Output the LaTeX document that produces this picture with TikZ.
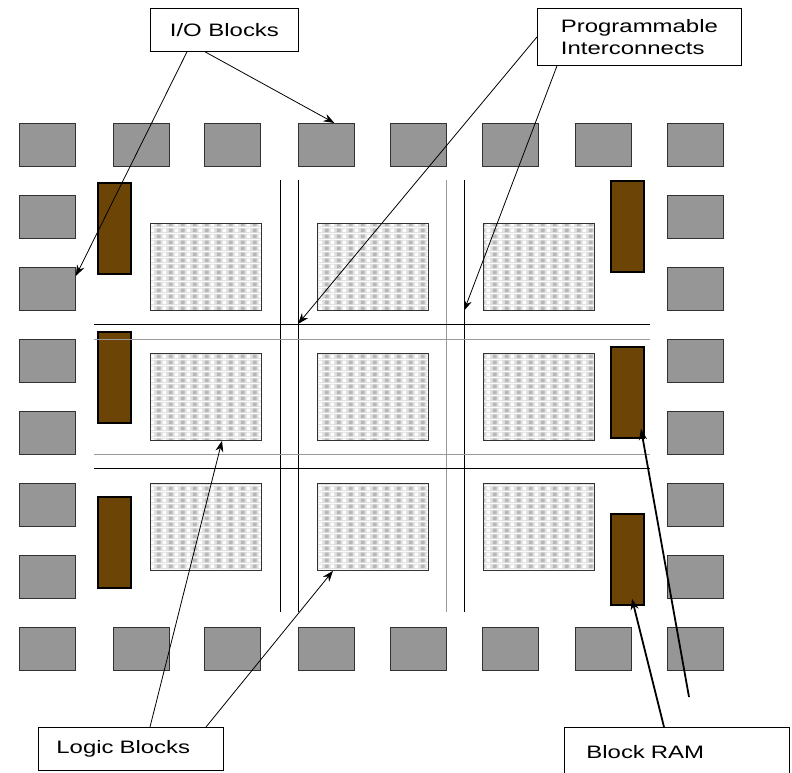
\documentclass[tikz,border=0pt]{standalone}
\usepackage{fontspec}
\setmainfont[FakeStretch=1.33]{Liberation Sans}
\usetikzlibrary{arrows.meta,patterns}
\definecolor{iogray}{RGB}{150,150,150}
\definecolor{ramb}{RGB}{108,68,6}
\definecolor{edge}{RGB}{50,50,50}
\pgfdeclarepatterninherentlycolored{lbcheck}{\pgfpointorigin}{\pgfpoint{12pt}{6pt}}{\pgfpoint{12pt}{6pt}}{%
\pgfsetfillcolor{black!12}\pgfpathrectangle{\pgfpointorigin}{\pgfpoint{12pt}{6pt}}\pgfusepath{fill}%
\pgfsetfillcolor{black!28}\pgfpathrectangle{\pgfpoint{1pt}{1pt}}{\pgfpoint{4pt}{4pt}}\pgfusepath{fill}%
\pgfsetfillcolor{white}\pgfpathrectangle{\pgfpoint{7pt}{1pt}}{\pgfpoint{4pt}{4pt}}\pgfusepath{fill}}
\begin{document}
\begin{tikzpicture}[x=1pt,y=-1pt,line width=0.8pt,>={Stealth[length=11pt,width=8pt]},
iob/.style={draw=edge,fill=iogray,inner sep=0pt,minimum width=56pt,minimum height=43pt,anchor=north west},
ram/.style={draw,line width=1.8pt,fill=ramb,inner sep=0pt,minimum width=33pt,minimum height=91pt,anchor=north west},
lgc/.style={draw=edge,pattern=lbcheck,inner sep=0pt,minimum width=111pt,minimum height=87pt,anchor=north west},
lbl/.style={draw,fill=white,inner ysep=0pt,anchor=north west,font=\fontsize{18}{22}\selectfont,align=left}]
\useasboundingbox (0,0) rectangle (792,773);
\foreach \x [count=\i] in {19,113,204,298,390,482,575,667}{
\node[iob] (t\i) at (\x,123) {};
\node[iob] (b\i) at (\x,627) {};}
\foreach \y [count=\i] in {195,267,339,411,483,555}{
\node[iob] (l\i) at (19,\y) {};
\node[iob] (r\i) at (667,\y) {};}
\foreach \y [count=\i] in {182,331,496}{\node[ram] (rl\i) at (97,\y) {};}
\foreach \y [count=\i] in {180,346,513}{\node[ram] (rr\i) at (610,\y) {};}
\foreach \y [count=\j] in {223,353,483}{
\foreach \x [count=\i] in {150,317,483}{\node[lgc] (lb\j\i) at (\x,\y) {};}}
\coordinate (v2) at (298,180);
\coordinate (v4) at (464,180);
\coordinate (h1) at (94,324);
\draw (280,180)--(280,612);
\draw (v2)--(298,612);
\draw[gray!80] (446,180)--(446,612);
\draw (v4)--(464,612);
\draw (h1)--(650,324);
\draw[gray!80] (94,339)--(650,339);
\draw[gray!80] (94,454)--(650,454);
\draw (94,468)--(650,468);
\node[lbl,minimum width=148pt,minimum height=43pt,align=center] (io) at (150,8) {I/O Blocks};
\node[lbl,minimum width=204pt,minimum height=57pt] (pi) at (537,8) {Programmable\\Interconnects};
\node[lbl,minimum height=43pt,inner xsep=18pt,text width=149pt] (lg) at (38,727) {Logic Blocks};
\node[lbl,inner xsep=22pt,text width=181pt,text height=31pt,text depth=40pt] (br) at (564,727) {Block RAM};
\coordinate (brtail) at (689,697);
\draw[->] ([xshift=37pt]io.south west)--([yshift=-9pt]l2.north east);
\draw[->] ([xshift=55pt]io.south west)--([xshift=8pt]t4.north);
\draw[->] (pi.west)--(v2 |- h1);
\draw[->] ([xshift=20pt]pi.south west)--(v4 |- lb13.south);
\draw[->] ([xshift=112pt]lg.north west)--([xshift=72pt]lb21.south west);
\draw[->] ([xshift=168pt]lg.north west)--([xshift=16pt]lb32.south west);
\draw[->,line width=1.8pt] ([xshift=100pt]br.north west)--([xshift=22pt,yshift=7pt]rr3.south west);
\draw[->,line width=1.8pt] (brtail)--([xshift=31pt,yshift=10pt]rr2.south west);
\end{tikzpicture}
\end{document}
